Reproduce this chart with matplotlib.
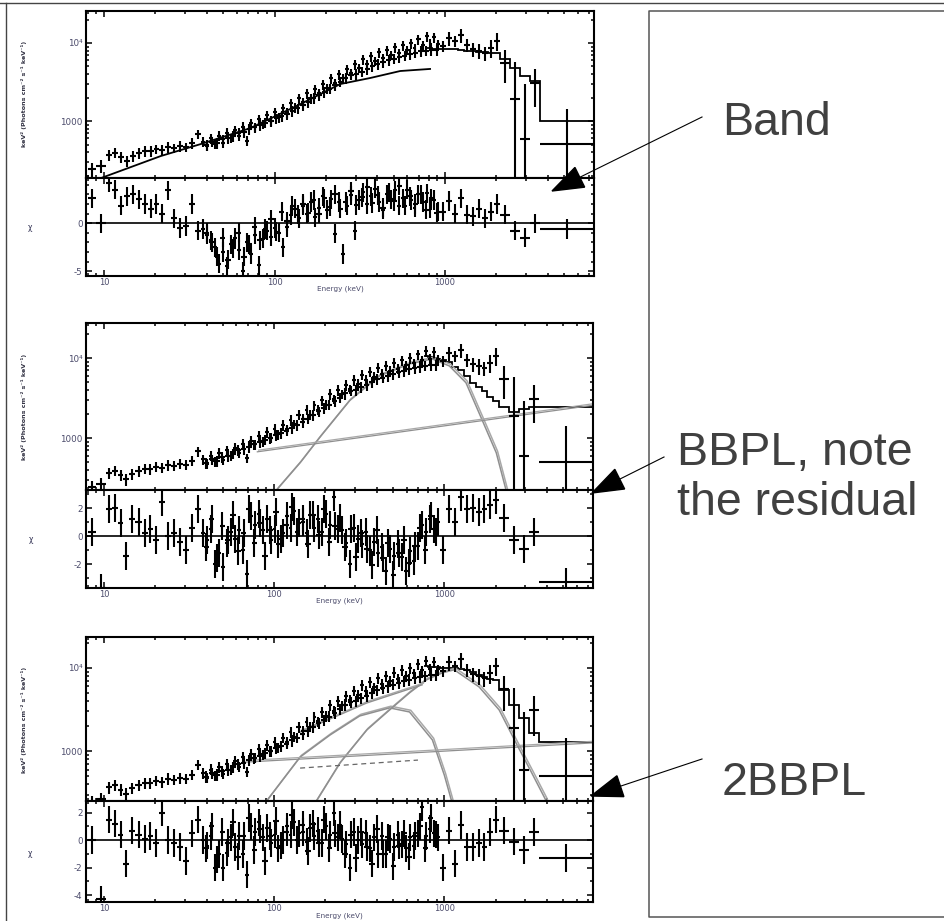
import numpy as np
import matplotlib
matplotlib.use("Agg")
import matplotlib.pyplot as plt
import matplotlib.patheffects as pe
from matplotlib.ticker import FixedLocator, FixedFormatter, LogLocator, MultipleLocator, NullFormatter, FormatStrFormatter
from matplotlib.patches import Polygon

plt.rcParams['axes.unicode_minus'] = False

# ------------------------------------------------------------------ data (detector 1)
energy_edges = [8.0, 9.0, 10.2, 11.1, 12.0, 13.0, 14.1, 15.3, 16.6, 18.0, 19.5, 21.1, 22.9,
                24.8, 26.9, 29.2, 31.6, 34.3, 37.2,
                39.3, 41.4, 43.7, 46.1, 48.7, 51.4, 54.2, 57.2, 60.4, 63.7,
                67.2, 70.9, 74.9, 79.0, 83.4, 88.0, 92.9, 98.0, 103, 109,
                115, 122, 128, 135, 143, 151, 159, 168, 177, 187,
                197, 208, 220, 232, 245, 258, 272, 287, 303, 320,
                338, 357, 376, 397, 419, 442, 467, 493, 520, 549,
                579, 611, 645, 680, 718, 758, 800, 844, 890, 940,
                1020, 1105, 1198, 1299, 1408, 1526, 1654, 1793, 1944, 2107,
                2400, 2750, 3140, 3600, 7400]

flux = [242, 265,
        366, 390, 345, 307, 356, 390, 412, 412, 438, 425, 464, 450, 478, 464, 522, 681,
        540, 480, 600, 510, 650, 530, 700, 600, 760, 650,
        850, 560, 930, 830, 1050, 910, 1180, 1000, 1290, 1110,
        1450, 1290, 1680, 1490, 1950, 1740, 2260, 1950, 2550, 2270,
        2950, 2620, 3530, 3050, 3960, 3530, 4590, 4080, 5320, 4730,
        6170, 5320, 6740, 5820, 7580, 6360, 8040, 6940, 8780, 7370,
        9320, 8060, 9900, 8550, 11100, 9320, 12200, 9800, 11800, 9600,
        9150, 11600, 10600, 12600, 9430, 8360, 7890, 7440, 8620, 10600,
        5530, 1910, 588, 3070, 507]

flux_rel_err = [0.20, 0.18,
                0.16, 0.15, 0.16, 0.17, 0.15, 0.16, 0.15, 0.16, 0.14, 0.15, 0.16, 0.14, 0.15, 0.14, 0.15, 0.14,
                0.15, 0.14, 0.15, 0.14, 0.15, 0.14, 0.15, 0.14, 0.15, 0.14,
                0.15, 0.14, 0.15, 0.14, 0.15, 0.14, 0.15, 0.14, 0.15, 0.14,
                0.15, 0.14, 0.15, 0.14, 0.15, 0.14, 0.15, 0.14, 0.15, 0.14,
                0.15, 0.14, 0.15, 0.14, 0.15, 0.14, 0.15, 0.14, 0.15, 0.14,
                0.15, 0.14, 0.15, 0.14, 0.15, 0.14, 0.15, 0.14, 0.15, 0.14,
                0.15, 0.14, 0.15, 0.14, 0.15, 0.14, 0.15, 0.14, 0.15, 0.14,
                0.15, 0.20, 0.15, 0.20, 0.18, 0.20, 0.22, 0.20, 0.25, 0.25,
                0.45, 2.0, 4.0, 0.5, 1.8]

resid_band = [2.6, 0.0,
              4.2, 3.5, 1.8, 2.8, 3.0, 2.5, 2.0, 1.5, 2.0, 1.0, 3.4, 0.5, -0.5, -0.3, 2.0, -0.8,
              -0.6, -1.2, -1.8, -2.5, -4.2, -3.0, -4.5, -2.2, -1.5, -2.8,
              -5.0, -2.0, -3.2, -1.2, -4.4, -1.6, -0.8, -1.4, -0.5, -1.0,
              -2.5, -0.4, 0.8, 1.5, 0.5, 1.8, 1.0, 2.2, 0.6, 1.6,
              2.8, 1.4, 2.5, -1.1, 2.2, -3.2, 1.8, 2.9, -0.8, 2.4,
              3.2, 2.0, 2.8, 3.6, 2.2, 1.4, 3.0, 2.5, 3.4, 1.8,
              2.6, 3.5, 2.4, 1.6, 3.0, 2.2, 3.1, 1.5, 2.4, 1.2,
              1.2, 2.3, 1.0, 2.6, 0.9, 0.7, 1.5, 0.5, 1.2, 2.0,
              0.9, -0.8, -1.5, 0.0, -0.6]

resid_bbpl = [0.3, -3.7,
              1.9, 2.0, 0.9, -1.4, 1.2, 1.0, 0.2, 0.5, -0.3, 2.4, 0.0, 0.2, -0.4, -1.0, 0.6, 1.9,
              0.2, -0.3, 0.5, -2.0, -1.2, -2.2, -0.5, 0.3, -0.2, 0.4,
              -1.0, -2.7, 1.4, 0.8, 1.6, 0.4, 1.2, -0.3, 0.5, -0.6,
              0.2, 1.4, 0.6, 1.8, 0.9, 1.0, 0.2, 1.5, 0.6, 1.2,
              0.3, 1.6, 0.8, 2.8, 0.5, 0.4, -0.5, -2.0, 0.6, -0.2,
              -0.6, 0.3, -1.0, -0.4, -1.2, -0.8, -2.5, -0.9, -1.4, -0.6,
              -1.5, -2.5, -1.1, -1.8, -0.7, 0.8, 0.3, 1.2, 0.5, 1.0,
              -1.0, 1.9, 1.0, 2.8, 1.9, 2.0, 1.7, 1.9, 2.2, 2.6,
              1.3, -0.3, -0.9, 0.3, -3.3]

resid_2bbpl = [0.0, -4.3,
               1.5, 1.2, 0.4, -1.7, 0.7, 0.4, 0.1, 0.3, -0.2, 2.0, 0.0, -0.2, -0.5, -1.5, 0.5, 1.5,
               0.0, -0.4, 0.3, -2.0, -1.0, -2.0, -0.9, 0.2, -0.5, 0.3,
               -1.0, -2.5, 1.0, 0.6, 1.3, 0.2, 0.9, -0.2, 0.4, -0.6,
               0.0, 1.0, 0.4, 1.3, 0.5, 0.6, -0.1, 0.9, 0.3, 0.7,
               -0.2, 1.0, 0.4, 2.0, 0.2, 0.1, -0.3, -2.0, 0.6, 0.0,
               -0.3, 0.5, -0.6, 0.2, -1.0, 0.3, -1.0, 0.1, -0.5, 0.4,
               -0.3, -0.6, 0.2, -0.4, 0.5, 2.4, 0.3, 0.8, 0.5, 0.2,
               -2.0, 0.7, -1.7, 1.1, -0.5, -0.5, -0.2, -0.5, 0.6, 1.5,
               0.7, -0.1, -0.7, 0.6, -1.3]

# ------------------------------------------------------------------ data (detector 2)
energy_edges2 = [38.5, 41.4, 44.5, 47.8, 51.4, 55.3, 59.4, 63.9, 68.7, 73.8, 79.4, 85.3,
                 91.7, 98.6, 106, 114, 122.5, 131.7, 141.6, 152, 164, 176, 189, 203, 218,
                 235, 252, 271, 292, 313, 337, 362, 389, 418, 450, 483, 520, 559, 600, 645,
                 694, 746, 802, 862, 926]

flux2 = [490, 540, 520, 580, 600, 640, 700, 720, 780, 830,
         880, 950, 1000, 1080, 1150, 1230, 1350, 1450, 1600, 1750,
         1950, 2150, 2350, 2600, 2900, 3200, 3600, 3900, 4000, 4300,
         4600, 5000, 5400, 5700, 6000, 6300, 6600, 6900, 7200, 7500,
         7800, 8000, 8200, 8100]

flux2_rel_err = [0.16, 0.15, 0.16, 0.15, 0.16, 0.15, 0.16, 0.15, 0.16, 0.15,
                 0.16, 0.15, 0.16, 0.15, 0.16, 0.15, 0.16, 0.15, 0.16, 0.15,
                 0.16, 0.15, 0.16, 0.15, 0.16, 0.15, 0.16, 0.15, 0.16, 0.15,
                 0.16, 0.15, 0.16, 0.15, 0.16, 0.15, 0.16, 0.15, 0.16, 0.15,
                 0.16, 0.15, 0.16, 0.15]

resid2_band = [-1.0, -2.0, -3.5, -1.5, -3.8, -2.6, -1.0, -3.5, -2.2, -0.4,
               -1.8, -0.6, 0.4, -0.9, 1.2, 0.2, 1.8, 0.9, 2.0, 1.1,
               2.4, 1.0, 2.6, 1.7, 3.0, 1.5, 2.2, 3.3, 1.9, 2.7,
               3.8, 2.1, 2.9, 1.6, 3.2, 2.3, 3.9, 1.8, 2.8, 2.0,
               3.0, 1.4, 2.6, 1.1]

resid2_bbpl = [-0.8, 1.2, -1.6, 0.7, -0.3, 1.5, -1.1, 0.2, 1.9, -0.5,
               0.9, -1.4, 0.4, 1.7, -0.2, 0.8, 2.1, 0.3, 1.2, -0.6,
               1.5, 0.1, 1.9, -0.4, 0.7, 1.3, -0.8, 0.5, -1.5, 0.2,
               -0.9, -2.1, 0.4, -1.6, -0.5, -2.8, -1.2, -0.3, -1.9, -0.7,
               0.6, -1.0, 1.4, 0.3]

resid2_2bbpl = [-0.6, 1.0, -1.4, 0.6, -0.2, 1.3, -1.2, 0.3, 1.6, -0.7,
                0.8, -1.5, 0.3, 1.4, -0.4, 0.6, 1.8, 0.0, 1.1, -0.8,
                1.2, -0.2, 1.5, -0.6, 0.5, 1.1, -1.0, 0.4, -1.3, 0.6,
                -0.5, -1.7, 0.8, -1.0, 0.2, -1.9, -0.4, 0.5, -1.2, 0.3,
                1.0, -0.6, 1.6, 0.4]

# ------------------------------------------------------------------ model curves
band_nai_energy = [9.6, 21.5, 36.9, 72.4, 142, 243, 364, 546, 817]
band_nai_flux = [186, 356, 507, 814, 1650, 2980, 3560, 4375, 4650]

step_edges = [758, 800, 844, 890, 940, 1020, 1105, 1198, 1299, 1408, 1526, 1654, 1793,
              1944, 2107, 2400, 2750, 3140, 3600, 7400]
band_step = [8620, 8620, 8500, 8400, 8400, 8400, 8400, 8150, 7890, 7890, 7660, 7660,
             7440, 7440, 6230, 4780, 3775, 3257, 1000]
bbpl_step = [10600, 10400, 10100, 9800, 9500, 8800, 7800, 7000, 5990, 4910, 4300, 3910,
             3300, 2900, 2420, 2100, 2300, 2420, 2420]
bb2pl_step = [10400, 10300, 10200, 10100, 10000, 10000, 10000, 9700, 9300, 8960, 8300,
              7800, 7400, 7170, 5430, 3580, 2500, 1650, 1284]

bb_energy = [88, 104, 142, 186, 278, 417, 624, 850, 1070, 1340, 1670, 2020, 2300, 2470]
bb_flux = [129, 228, 491, 1030, 2945, 5990, 8430, 9730, 7960, 4910, 1670, 653, 228, 129]
pl_energy = [79.6, 7330]
pl_flux = [672, 2550]

bb1_energy = [77.4, 91.0, 142, 213, 318, 477, 624, 851, 1000, 1100, 1175]
bb1_flux = [148, 257, 847, 1560, 2640, 3300, 2950, 1360, 514, 257, 148]
bb2_energy = [152, 178, 243, 350, 477, 624, 785, 973, 1143, 1600, 2100, 2640, 3270, 3950, 4290]
bb2_flux = [148, 257, 716, 1790, 3120, 5000, 7160, 8700, 9460, 5900, 3120, 1250, 543, 257, 148]
pl3_energy = [67.6, 7330]
pl3_flux = [736, 1250]
pl3b_energy = [142, 700]
pl3b_flux = [624, 779]
tot3b_energy = [142, 350, 740]
tot3b_flux = [1690, 3780, 6240]

# ------------------------------------------------------------------ text
ylabel_spec = "keV² (Photons cm⁻² s⁻¹ keV⁻¹)"
ylabel_res = "χ"
xlabel = "Energy (keV)"
xtick_vals = [10, 100, 1000]
xtick_labels = ["10", "100", "1000"]
ytick_vals = [1000, 10000]
ytick_labels = ["1000", "10⁴"]
notes = ["Band", "BBPL, note", "the residual", "2BBPL"]

# ------------------------------------------------------------------ figure
W, H = 944, 921
fig = plt.figure(figsize=(W / 100, H / 100), dpi=100)

def add_ax(x0, y0, x1, y1):
    return fig.add_axes([x0 / W, 1 - y1 / H, (x1 - x0) / W, (y1 - y0) / H])

def prep(edges_list, flux_list, rel_list):
    e = np.array(edges_list, dtype=float)
    lo, hi = e[:-1], e[1:]
    c = np.sqrt(lo * hi)
    f = np.array(flux_list, dtype=float)
    er = f * np.array(rel_list)
    return c, [c - lo, hi - c], f, [np.minimum(er, f - 1.0), er]

cen1, xerr1, F1, yerr1 = prep(energy_edges, flux, flux_rel_err)
cen2, xerr2, F2, yerr2 = prep(energy_edges2, flux2, flux2_rel_err)

XLIM = (7.83, 7480)
TICKC = '#4b4b6b'
GREY = '#8f8f8f'
ELW = 1.5

def style(ax, spec, height_px):
    ax.set_xscale('log')
    ax.set_xlim(*XLIM)
    for s in ax.spines.values():
        s.set_linewidth(1.5)
    ax.xaxis.set_major_locator(FixedLocator(xtick_vals))
    ax.xaxis.set_minor_locator(LogLocator(base=10, subs=np.arange(2, 10)))
    ax.xaxis.set_minor_formatter(NullFormatter())
    ax.tick_params(which='both', direction='in', top=True, right=True, width=1.1,
                   labelsize=6.3, labelcolor=TICKC, pad=2.5)
    ax.tick_params(which='major', length=4.5)
    ax.tick_params(which='minor', length=2.2)
    ax.tick_params(axis='x', pad=1.5, labelsize=6.0)
    if spec:
        ax.tick_params(labelbottom=False)
        ax.set_yscale('log')
        ax.yaxis.set_major_locator(FixedLocator(ytick_vals))
        ax.yaxis.set_major_formatter(FixedFormatter(ytick_labels))
        ax.yaxis.set_minor_locator(LogLocator(base=10, subs=np.arange(2, 10)))
        ax.yaxis.set_minor_formatter(NullFormatter())
    else:
        ax.xaxis.set_major_formatter(FixedFormatter(xtick_labels))
        ax.set_xlabel(xlabel, fontsize=5.2, color=TICKC)
        ax.xaxis.set_label_coords(0.5, -10.0 / height_px)
        ax.yaxis.set_major_formatter(FormatStrFormatter('%d'))

def draw_data(ax):
    ax.errorbar(cen1, F1, xerr=xerr1, yerr=yerr1, fmt='none', ecolor='k', elinewidth=ELW, capsize=0)
    ax.errorbar(cen2, F2, xerr=xerr2, yerr=yerr2, fmt='none', ecolor='k', elinewidth=ELW, capsize=0)

def draw_resid(ax, res1, res2):
    ax.axhline(0, color='k', lw=1.2)
    ax.errorbar(cen1, res1, xerr=xerr1, yerr=1.0, fmt='none', ecolor='k', elinewidth=ELW, capsize=0)
    ax.errorbar(cen2, res2, xerr=xerr2, yerr=1.0, fmt='none', ecolor='k', elinewidth=ELW, capsize=0)

def grey_curve(ax, x, y, lw=1.0):
    ax.plot(x, y, color=GREY, lw=lw,
            path_effects=[pe.Stroke(linewidth=lw, foreground='#a8a8a8', offset=(0.9, 1.2)), pe.Normal()])

panels = [
    dict(spec=(86, 11, 594, 178), res=(86, 178, 594, 276), ylim=(10 ** 2.27, 10 ** 4.41),
         rlim=(-5.5, 4.7), rmaj=5, resid=(resid_band, resid2_band)),
    dict(spec=(86, 323, 593, 490), res=(86, 490, 593, 588), ylim=(10 ** 2.35, 10 ** 4.4375),
         rlim=(-3.71, 3.29), rmaj=2, resid=(resid_bbpl, resid2_bbpl)),
    dict(spec=(86, 637, 593, 801), res=(86, 801, 593, 902), ylim=(10 ** 2.40, 10 ** 4.37),
         rlim=(-4.5, 2.85), rmaj=2, resid=(resid_2bbpl, resid2_2bbpl)),
]

for i, p in enumerate(panels):
    axs = add_ax(*p['spec'])
    axr = add_ax(*p['res'])
    style(axs, True, p['spec'][3] - p['spec'][1])
    style(axr, False, p['res'][3] - p['res'][1])
    axs.set_ylim(*p['ylim'])
    axr.set_ylim(*p['rlim'])
    axr.yaxis.set_major_locator(MultipleLocator(p['rmaj']))
    axr.yaxis.set_minor_locator(MultipleLocator(1))

    if i == 0:
        axs.plot(band_nai_energy, band_nai_flux, color='k', lw=1.3)
        axs.stairs(band_step, step_edges, color='k', lw=1.3, baseline=None)
    elif i == 1:
        grey_curve(axs, bb_energy, bb_flux, 1.1)
        grey_curve(axs, pl_energy, pl_flux, 0.9)
        axs.stairs(bbpl_step, step_edges, color='k', lw=1.3, baseline=None)
    else:
        grey_curve(axs, bb1_energy, bb1_flux, 1.1)
        grey_curve(axs, bb2_energy, bb2_flux, 1.1)
        grey_curve(axs, tot3b_energy, tot3b_flux, 1.0)
        grey_curve(axs, pl3_energy, pl3_flux, 0.9)
        axs.plot(pl3b_energy, pl3b_flux, color='#666666', lw=0.9, ls=(0, (4, 3)))
        axs.stairs(bb2pl_step, step_edges, color='k', lw=1.3, baseline=None)
    draw_data(axs)
    draw_resid(axr, *p['resid'])

# ------------------------------------------------------------------ overlay (frames, notes, arrows)
ov = fig.add_axes([0, 0, 1, 1])
ov.set_xlim(0, W)
ov.set_ylim(H, 0)
ov.axis('off')
ov.set_zorder(10)

ov.plot([0, W], [3, 3], color='#444444', lw=1.0)
ov.plot([6, 6], [3, H], color='#444444', lw=1.0)
ov.plot([W + 5, 649, 649, W + 5], [11, 11, 917, 917], color='#555555', lw=1.1, clip_on=False)

ylab_pos = [(24, 94), (24, 407), (24, 720)]
res_pos = [(30, 227), (31, 539), (30, 853)]
for (x, y) in ylab_pos:
    ov.text(x, y, ylabel_spec, rotation=90, ha='center', va='center', fontsize=4.6,
            color='#333344', fontweight='bold')
for (x, y) in res_pos:
    ov.text(x, y, ylabel_res, ha='center', va='center', fontsize=5.5, color='#333355')

txt_kw = dict(fontsize=33.5, family=['Liberation Sans', 'DejaVu Sans'], color='#404040', va='baseline')
ov.text(722, 135, notes[0], **txt_kw)
ov.text(677, 465, notes[1], **txt_kw)
ov.text(677, 515, notes[2], **txt_kw)
ov.text(722, 795, notes[3], **txt_kw)

arrows = [((702, 117), (552, 191)), ((664, 457), (592, 493)), ((702, 759), (591, 796))]
for (tail, tip) in arrows:
    t = np.array(tail, float)
    q = np.array(tip, float)
    d = (t - q) / np.hypot(*(t - q))
    n = np.array([-d[1], d[0]])
    base = q + 31 * d
    ov.plot([t[0], base[0]], [t[1], base[1]], color='k', lw=0.8)
    ov.add_patch(Polygon([q, base + 11 * n, base - 11 * n], closed=True, color='k'))

fig.savefig('out.png', dpi=100)
